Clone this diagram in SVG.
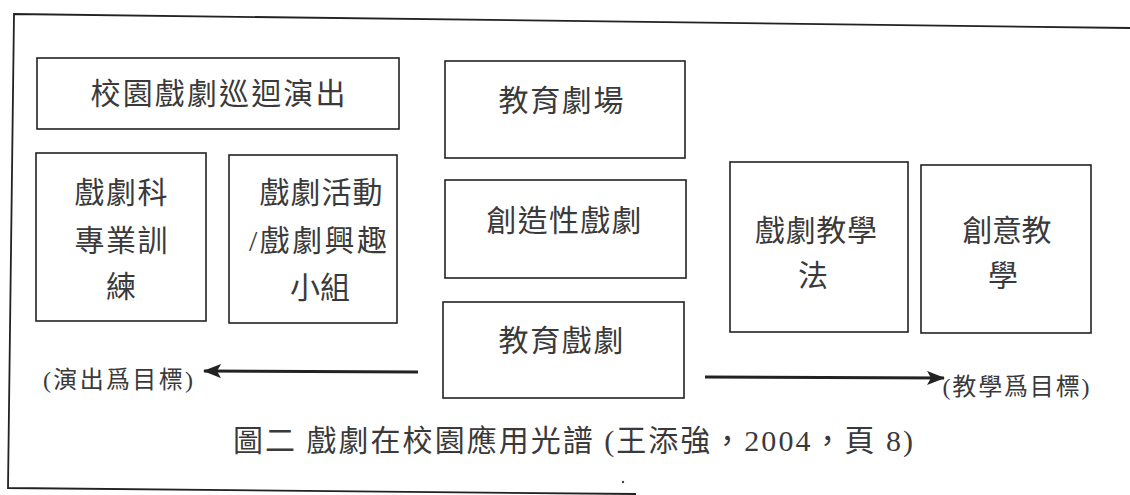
<svg xmlns="http://www.w3.org/2000/svg" width="1130" height="495" viewBox="0 0 1130 495">
<style>
.box{fill:#fff;stroke:#222;stroke-width:1.6}
.t{font-family:"Liberation Serif","Noto Sans CJK TC",serif;fill:#3a3a3a;text-anchor:middle;dominant-baseline:central}
.b{font-size:30px}
.s{font-size:24px}
.c{font-size:30px}
.arr{stroke:#222;stroke-width:3;fill:none}
</style>
<defs>
<marker id="ah" markerWidth="18" markerHeight="14" refX="17" refY="7" orient="auto" markerUnits="userSpaceOnUse">
<path d="M0,0 L18,7 L0,14 L4,7 Z" fill="#222"/>
</marker>
</defs>
<rect width="1130" height="495" fill="#fff"/>
<polyline points="1130,28 14,14 8,488 636,494" fill="none" stroke="#222" stroke-width="1.8"/>
<g id="n_tour"><rect class="box" x="37" y="58" width="362" height="71"/><text class="t b" x="218" y="93" textLength="255" lengthAdjust="spacing">校園戲劇巡迴演出</text></g>
<g id="n_major"><rect class="box" x="36" y="153" width="170" height="168"/><text class="t b" x="121" y="192" textLength="93" lengthAdjust="spacing">戲劇科</text><text class="t b" x="121" y="240" textLength="93" lengthAdjust="spacing">專業訓</text><text class="t b" x="121" y="286">練</text></g>
<g id="n_club"><rect class="box" x="229" y="155" width="168" height="168"/><text class="t b" x="321" y="192" textLength="123" lengthAdjust="spacing">戲劇活動</text><text class="t b" x="318" y="240" textLength="138" lengthAdjust="spacing">/戲劇興趣</text><text class="t b" x="320" y="287" textLength="60" lengthAdjust="spacing">小組</text></g>
<g id="n_tie"><rect class="box" x="445" y="61" width="240" height="97"/><text class="t b" x="561" y="100" textLength="125" lengthAdjust="spacing">教育劇場</text></g>
<g id="n_creative"><rect class="box" x="445" y="180" width="241" height="98"/><text class="t b" x="564" y="220" textLength="155" lengthAdjust="spacing">創造性戲劇</text></g>
<g id="n_die"><rect class="box" x="443" y="302" width="241" height="96"/><text class="t b" x="561" y="340" textLength="125" lengthAdjust="spacing">教育戲劇</text></g>
<g id="n_method"><rect class="box" x="730" y="162" width="178" height="170"/><text class="t b" x="816" y="230" textLength="122" lengthAdjust="spacing">戲劇教學</text><text class="t b" x="813" y="275">法</text></g>
<g id="n_innov"><rect class="box" x="921" y="165" width="170" height="168"/><text class="t b" x="1007" y="230" textLength="89" lengthAdjust="spacing">創意教</text><text class="t b" x="1003" y="275">學</text></g>
<g id="connectors">
<line class="arr" x1="418" y1="372" x2="204" y2="371" marker-end="url(#ah)"/>
<line class="arr" x1="705" y1="377" x2="944" y2="378" marker-end="url(#ah)"/>
</g>
<g id="labels">
<text class="t s" x="118" y="380" textLength="150" lengthAdjust="spacing">(演出爲目標)</text>
<text class="t s" x="1016" y="387" textLength="147" lengthAdjust="spacing">(教學爲目標)</text>
<text class="t c" x="573" y="440" textLength="680" lengthAdjust="spacing">圖二 戲劇在校園應用光譜 (王添強，2004，頁 8)</text>
</g>
<circle cx="623" cy="482" r="1.2" fill="#444"/>
</svg>
